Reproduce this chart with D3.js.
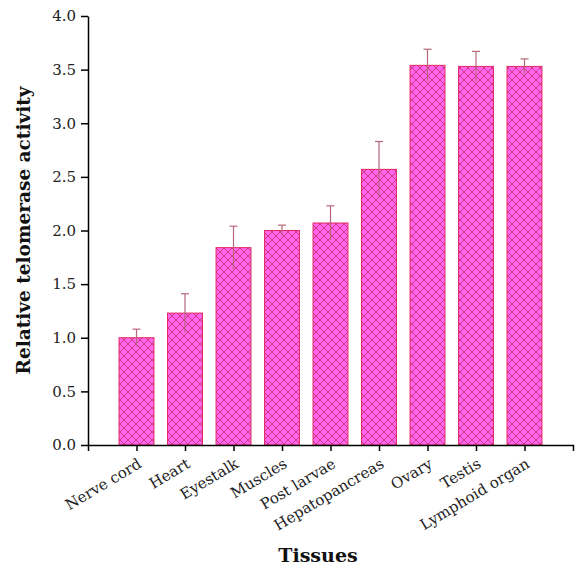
<!DOCTYPE html>
<html>
<head>
<meta charset="utf-8">
<script src="https://cdn.jsdelivr.net/npm/d3@7"></script>
<style>
  body { margin: 0; background: #fff; }
  svg { display: block; }
</style>
</head>
<body>
<div id="chart"></div>
<script>
// data
const tissues = ["Nerve cord", "Heart", "Eyestalk", "Muscles", "Post larvae",
                 "Hepatopancreas", "Ovary", "Testis", "Lymphoid organ"];
const activity = [1.00, 1.23, 1.84, 2.00, 2.07, 2.57, 3.54, 3.53, 3.53];
const errors   = [0.08, 0.18, 0.20, 0.05, 0.16, 0.26, 0.15, 0.14, 0.07];
const yTicks = [0, 0.5, 1, 1.5, 2, 2.5, 3, 3.5, 4];

const width = 577, height = 567;
const margins = {top: 16, right: 4, bottom: 122, left: 88};
const serif = "'DejaVu Serif', serif";

const svg = d3.select("#chart").append("svg")
  .attr("width", width)
  .attr("height", height);

// crosshatch fill for the bars
const defs = svg.append("defs");
const pat = defs.append("pattern")
  .attr("id", "hatch")
  .attr("patternUnits", "userSpaceOnUse")
  .attr("width", 8).attr("height", 8);
pat.append("rect").attr("width", 8).attr("height", 8).attr("fill", "#ff66ec");
pat.append("path")
  .attr("d", "M0,0L8,8M8,0L0,8M-1,7L1,9M7,-1L9,1M-1,1L1,-1M7,9L9,7")
  .attr("stroke", "#d0388a")
  .attr("stroke-width", 1);

const x = d3.scalePoint()
  .domain(tissues)
  .range([margins.left, width - margins.right])
  .padding(1);

const y = d3.scaleLinear()
  .domain([0, 4])
  .range([height - margins.bottom, margins.top]);

const barW = x.step() * 0.72;

// bars
svg.append("g").selectAll("rect")
  .data(tissues)
  .join("rect")
    .attr("x", d => x(d) - barW / 2)
    .attr("y", (d, i) => y(activity[i]))
    .attr("width", barW)
    .attr("height", (d, i) => y(0) - y(activity[i]))
    .attr("fill", "url(#hatch)")
    .attr("stroke", "#e0285e")
    .attr("stroke-width", 1);

// error bars
const eb = svg.append("g")
  .attr("stroke", "#b8667a")
  .attr("stroke-width", 1.2);
tissues.forEach((t, i) => {
  const cx = x(t);
  eb.append("line")
    .attr("x1", cx).attr("x2", cx)
    .attr("y1", y(activity[i] - errors[i]))
    .attr("y2", y(activity[i] + errors[i]));
  eb.append("line")
    .attr("x1", cx - 4).attr("x2", cx + 4)
    .attr("y1", y(activity[i] + errors[i]))
    .attr("y2", y(activity[i] + errors[i]));
});

// Y axis
svg.append("g")
  .attr("transform", `translate(${margins.left},0)`)
  .call(d3.axisLeft(y).tickValues(yTicks).tickFormat(d3.format(".1f")).tickSize(7).tickSizeOuter(0).tickPadding(5))
  .call(g => g.select(".domain").attr("stroke-width", 1.5))
  .call(g => g.selectAll(".tick line").attr("stroke-width", 1.5))
  .call(g => g.selectAll(".tick text")
    .style("font-family", serif).style("font-size", "15px").attr("fill", "#222"));

// X axis
svg.append("g")
  .attr("transform", `translate(0,${y(0)})`)
  .call(d3.axisBottom(x).tickSize(6).tickSizeOuter(6).tickPadding(4))
  .call(g => g.select(".domain").attr("stroke-width", 1.5))
  .call(g => g.selectAll(".tick line").attr("stroke-width", 1.5))
  .call(g => g.selectAll(".tick text")
    .style("font-family", serif).style("font-size", "15px").attr("fill", "#222")
    .attr("text-anchor", "end")
    .attr("dy", "0.7em")
    .attr("transform", "translate(-5,4) rotate(-31)"));

// axis titles
svg.append("text")
  .attr("transform", `translate(24,${(y(0) + y(4)) / 2}) rotate(-90)`)
  .attr("text-anchor", "middle")
  .attr("dy", "0.35em")
  .style("font-family", serif).style("font-size", "18.5px").style("font-weight", "bold")
  .attr("fill", "#111")
  .text("Relative telomerase activity");

svg.append("text")
  .attr("x", 318)
  .attr("y", 562)
  .attr("text-anchor", "middle")
  .style("font-family", serif).style("font-size", "19px").style("font-weight", "bold")
  .attr("fill", "#111")
  .text("Tissues");
</script>
</body>
</html>
